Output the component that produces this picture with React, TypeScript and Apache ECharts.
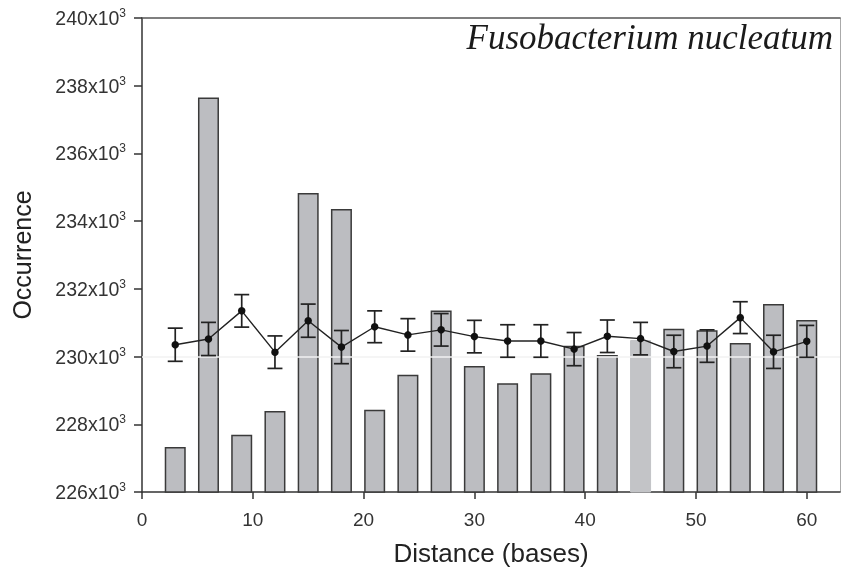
import React, { useEffect, useRef } from "react";
import * as echarts from "echarts";

const distances = [3, 6, 9, 12, 15, 18, 21, 24, 27, 30, 33, 36, 39, 42, 45, 48, 51, 54, 57, 60];
const barValues = [
  227330, 237650, 227690, 228390, 234830, 234360, 228430, 229460, 231360, 229720,
  229210, 229510, 230320, 230050, 230490, 230820, 230780, 230400, 231550, 231080,
];
const meanValues = [
  230350, 230520, 231350, 230130, 231060, 230280, 230880, 230640, 230790, 230590,
  230460, 230460, 230220, 230600, 230530, 230150, 230310, 231150, 230140, 230450,
];
const errValues = [
  490, 490, 480, 480, 490, 490, 470, 480, 480, 480,
  480, 480, 490, 480, 480, 480, 480, 470, 490, 470,
];
const xTicks = [0, 10, 20, 30, 40, 50, 60];
const yTicks = [226000, 228000, 230000, 232000, 234000, 236000, 238000, 240000];
const title = "Fusobacterium nucleatum";
const xName = "Distance (bases)";
const yName = "Occurrence";

export default function App() {
  const ref = useRef<HTMLDivElement>(null);
  useEffect(() => {
    if (!ref.current) return;
    const chart = echarts.init(ref.current, null, { renderer: "svg" });
    const font = "'Liberation Sans', Arial, sans-serif";
    const option: any = {
      animation: false,
      grid: { left: 142, right: 1, top: 18, bottom: 84, containLabel: false, outerBoundsMode: "none" },
      xAxis: [
        {
          type: "value",
          min: 0,
          max: 63,
          interval: 10,
          position: "bottom",
          name: xName,
          nameLocation: "middle",
          nameGap: 48,
          nameTextStyle: { fontFamily: font, fontSize: 26, color: "#222" },
          axisLine: { onZero: false, lineStyle: { color: "#333", width: 1.5 } },
          axisTick: { show: true, length: 7, inside: false, customValues: xTicks, lineStyle: { color: "#333", width: 1.5 } },
          axisLabel: { customValues: xTicks, margin: 18, fontFamily: font, fontSize: 19, color: "#333" },
          splitLine: { show: false },
        },
        {
          type: "value",
          min: 0,
          max: 63,
          position: "top",
          axisLine: { onZero: false, lineStyle: { color: "#555", width: 1.5 } },
          axisTick: { show: false },
          axisLabel: { show: false },
          splitLine: { show: false },
        },
      ],
      yAxis: [
        {
          type: "value",
          min: 226000,
          max: 240000,
          interval: 2000,
          name: yName,
          nameLocation: "middle",
          nameGap: 108,
          nameTextStyle: { fontFamily: font, fontSize: 25, color: "#222" },
          axisLine: { onZero: false, lineStyle: { color: "#333", width: 1.5 } },
          axisTick: { show: true, length: 8, inside: false, customValues: yTicks, lineStyle: { color: "#333", width: 1.5 } },
          axisLabel: {
            customValues: yTicks,
            margin: 16,
            formatter: (v: number) => `{n|${Math.round(v / 1000)}x10}{s|3}`,
            rich: {
              n: { fontFamily: font, fontSize: 19.5, color: "#333" },
              s: { fontFamily: font, fontSize: 12, color: "#333", padding: [0, 0, 10, 0] },
            },
          },
          splitLine: { show: false },
        },
        {
          type: "value",
          min: 226000,
          max: 240000,
          position: "right",
          axisLine: { show: true, onZero: false, lineStyle: { color: "#aaa", width: 1 } },
          axisTick: { show: false },
          axisLabel: { show: false },
          splitLine: { show: false },
        },
      ],
      series: [
        {
          type: "bar",
          xAxisIndex: 0,
          yAxisIndex: 0,
          barWidth: 21,
          z: 2,
          data: distances.map((d, i) => ({
            value: [d, barValues[i]],
            itemStyle:
              d === 45
                ? { color: "#c3c4c7", borderColor: "#c3c4c7", borderWidth: 1 }
                : { color: "#bcbdc1", borderColor: "#3a3a3a", borderWidth: 1.5 },
          })),
          markLine: {
            silent: true,
            symbol: "none",
            z: 3,
            label: { show: false },
            lineStyle: { color: "#f2f2f2", width: 1.5, type: "solid" },
            data: [{ yAxis: 230000 }],
          },
        },
        {
          type: "custom",
          xAxisIndex: 0,
          yAxisIndex: 0,
          z: 4,
          data: distances.map((d, i) => [d, meanValues[i] - errValues[i], meanValues[i] + errValues[i]]),
          renderItem: (params: any, api: any) => {
            const x = api.value(0);
            const lo = api.coord([x, api.value(1)]);
            const hi = api.coord([x, api.value(2)]);
            const hw = 7.5;
            const style = { stroke: "#222", lineWidth: 1.7, fill: null };
            return {
              type: "group",
              children: [
                { type: "line", shape: { x1: lo[0], y1: lo[1], x2: hi[0], y2: hi[1] }, style },
                { type: "line", shape: { x1: lo[0] - hw, y1: lo[1], x2: lo[0] + hw, y2: lo[1] }, style },
                { type: "line", shape: { x1: hi[0] - hw, y1: hi[1], x2: hi[0] + hw, y2: hi[1] }, style },
              ],
            };
          },
        },
        {
          type: "line",
          xAxisIndex: 0,
          yAxisIndex: 0,
          z: 5,
          symbol: "circle",
          symbolSize: 7.5,
          itemStyle: { color: "#111" },
          lineStyle: { color: "#222", width: 1.4 },
          data: distances.map((d, i) => [d, meanValues[i]]),
        },
      ],
      graphic: [
        {
          type: "text",
          right: 8,
          top: 20,
          style: {
            text: title,
            font: "italic 35px 'Liberation Serif', 'DejaVu Serif', serif",
            fill: "#1a1a1a",
          },
        },
      ],
    };
    chart.setOption(option);
    return () => chart.dispose();
  }, []);
  return <div ref={ref} style={{ position: "fixed", left: 0, top: 0, width: 841, height: 576 }} />;
}
